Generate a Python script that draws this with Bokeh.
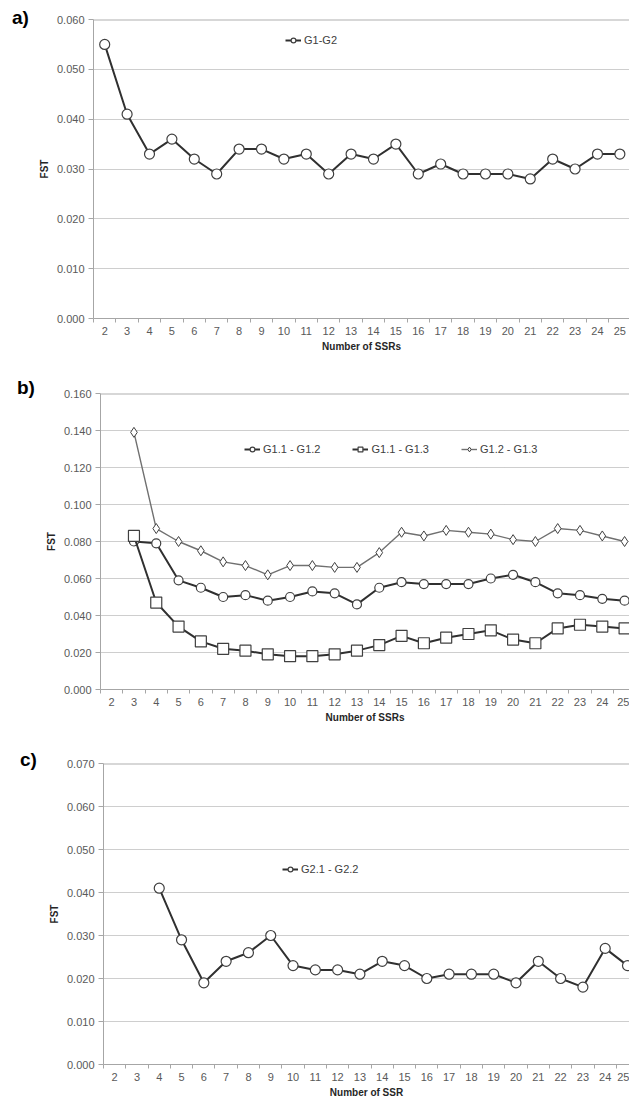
from bokeh.plotting import figure
from bokeh.models import (FixedTicker, NumeralTickFormatter, Range1d, Span,
                          Legend, LegendItem, Div)
from bokeh.layouts import column, row
from bokeh.embed import file_html
from bokeh.resources import INLINE

# ---------------- data ----------------
ssr_a = list(range(2, 26))
fst_g1_g2 = [0.055, 0.041, 0.033, 0.036, 0.032, 0.029, 0.034, 0.034, 0.032, 0.033,
             0.029, 0.033, 0.032, 0.035, 0.029, 0.031, 0.029, 0.029, 0.029, 0.028,
             0.032, 0.030, 0.033, 0.033]

ssr_b = list(range(3, 26))
fst_g11_g12 = [0.080, 0.079, 0.059, 0.055, 0.050, 0.051, 0.048, 0.050, 0.053, 0.052,
               0.046, 0.055, 0.058, 0.057, 0.057, 0.057, 0.060, 0.062, 0.058, 0.052,
               0.051, 0.049, 0.048]
fst_g11_g13 = [0.083, 0.047, 0.034, 0.026, 0.022, 0.021, 0.019, 0.018, 0.018, 0.019,
               0.021, 0.024, 0.029, 0.025, 0.028, 0.030, 0.032, 0.027, 0.025, 0.033,
               0.035, 0.034, 0.033]
fst_g12_g13 = [0.139, 0.087, 0.080, 0.075, 0.069, 0.067, 0.062, 0.067, 0.067, 0.066,
               0.066, 0.074, 0.085, 0.083, 0.086, 0.085, 0.084, 0.081, 0.080, 0.087,
               0.086, 0.083, 0.080]

ssr_c = list(range(4, 26))
fst_g21_g22 = [0.041, 0.029, 0.019, 0.024, 0.026, 0.030, 0.023, 0.022, 0.022, 0.021,
               0.024, 0.023, 0.020, 0.021, 0.021, 0.021, 0.019, 0.024, 0.020, 0.018,
               0.027, 0.023]

x_ticks = list(range(2, 26))
y_ticks_a = [0.0, 0.01, 0.02, 0.03, 0.04, 0.05, 0.06]
y_ticks_b = [0.0, 0.02, 0.04, 0.06, 0.08, 0.10, 0.12, 0.14, 0.16]
y_ticks_c = [0.0, 0.01, 0.02, 0.03, 0.04, 0.05, 0.06, 0.07]

FONT = "Liberation Sans"
AXIS_GRAY = "#a6a6a6"
TICK_TXT = "#595959"
LINE_DARK = "#303030"
MARK_EDGE = "#404040"


def make_fig(left, tag_w, frame_w, frame_h, top, bottom, x_end, y_ticks, xlabel):
    p = figure(frame_width=frame_w, frame_height=frame_h,
               min_border_left=left - tag_w, min_border_right=0,
               min_border_top=top, min_border_bottom=bottom,
               x_range=Range1d(1.5, x_end), y_range=Range1d(0, y_ticks[-1]),
               output_backend="svg", toolbar_location=None)
    p.outline_line_color = None
    p.background_fill_color = "white"
    p.border_fill_color = "white"
    p.xgrid.grid_line_color = None
    p.ygrid.grid_line_color = "#9c9c9c"
    p.ygrid.grid_line_dash = "1 1"
    p.ygrid.grid_line_width = 1

    xa = p.xaxis[0]
    xa.ticker = FixedTicker(ticks=x_ticks, minor_ticks=[t - 0.5 for t in x_ticks] + [25.5])
    xa.axis_line_color = AXIS_GRAY
    xa.major_tick_line_color = None
    xa.major_tick_out = 0
    xa.major_tick_in = 0
    xa.minor_tick_line_color = AXIS_GRAY
    xa.minor_tick_out = 4
    xa.minor_tick_in = 0
    xa.major_label_text_font = FONT
    xa.major_label_text_font_size = "11px"
    xa.major_label_text_color = TICK_TXT
    xa.major_label_standoff = 4
    xa.axis_label = xlabel
    xa.axis_label_text_font = FONT
    xa.axis_label_text_font_size = "10px"
    xa.axis_label_text_font_style = "bold"
    xa.axis_label_text_color = "#262626"
    xa.axis_label_standoff = 3

    ya = p.yaxis[0]
    ya.ticker = FixedTicker(ticks=y_ticks)
    ya.formatter = NumeralTickFormatter(format="0.000")
    ya.axis_line_color = AXIS_GRAY
    ya.major_tick_line_color = AXIS_GRAY
    ya.major_tick_out = 5
    ya.major_tick_in = 0
    ya.minor_tick_line_color = None
    ya.major_label_text_font = FONT
    ya.major_label_text_font_size = "11px"
    ya.major_label_text_color = TICK_TXT
    ya.major_label_standoff = 4
    ya.axis_label = "FST"
    ya.axis_label_text_font = FONT
    ya.axis_label_text_font_size = "10px"
    ya.axis_label_text_font_style = "bold"
    ya.axis_label_text_color = "#262626"
    ya.axis_label_standoff = 4

    p.add_layout(Span(location=y_ticks[-1], dimension="width",
                      line_color="#b0b0b0", line_width=2))
    return p


def tag_div(tag, width, pad_left, pad_top):
    html = ('<div style="font-family:\'Liberation Sans\',Arial,sans-serif;'
            'font-size:19px;font-weight:bold;line-height:19px;color:#000;'
            f'padding-left:{pad_left}px;padding-top:{pad_top}px;">{tag}</div>')
    return Div(text=html, width=width, height=40, margin=0)


def series(p, xs, ys, marker, size, lcolor, lwidth, mwidth=1.2):
    ln = p.line(xs, ys, line_color=lcolor, line_width=lwidth)
    sc = p.scatter(xs, ys, marker=marker, size=size, fill_color="white",
                   line_color=MARK_EDGE, line_width=mwidth)
    return [ln, sc]


def add_legend(p, items, loc, spacing=0):
    lg = Legend(items=[LegendItem(label=l, renderers=r) for l, r in items],
                location=loc, orientation="horizontal",
                glyph_width=16, glyph_height=12, label_standoff=3,
                label_text_font=FONT, label_text_font_size="11px",
                label_text_color="#404040", label_height=12,
                padding=0, margin=0, spacing=spacing,
                border_line_color=None, background_fill_alpha=0)
    p.add_layout(lg)


# ---------------- panel a ----------------
pa = make_fig(93, 30, 536, 299, 19, 52, 25.43, y_ticks_a, "Number of SSRs")
ra = series(pa, ssr_a, fst_g1_g2, "circle", 10, LINE_DARK, 2)
add_legend(pa, [("G1-G2", ra)], (192, 272))

# ---------------- panel b ----------------
pb = make_fig(100, 40, 529, 296, 23, 51, 25.22, y_ticks_b, "Number of SSRs")
rb3 = series(pb, ssr_b, fst_g12_g13, "diamond", 10, "#707070", 1.4, 1.0)
rb1 = series(pb, ssr_b, fst_g11_g12, "circle", 9, LINE_DARK, 2)
rb2 = series(pb, ssr_b, fst_g11_g13, "square", 11, LINE_DARK, 2)
add_legend(pb, [("G1.1 - G1.2", rb1), ("G1.1 - G1.3", rb2), ("G1.2 - G1.3", rb3)],
           (144, 234), spacing=32)

# ---------------- panel c ----------------
pc = make_fig(103, 40, 526, 301, 23, 35, 25.09, y_ticks_c, "Number of SSR")
rc = series(pc, ssr_c, fst_g21_g22, "circle", 10, LINE_DARK, 2)
add_legend(pc, [("G2.1 - G2.2", rc)], (179, 189))

layout = column(
    row(tag_div("a)", 30, 12, 8), pa, spacing=0),
    row(tag_div("b)", 40, 17, 8), pb, spacing=0),
    row(tag_div("c)", 40, 20, 10), pc, spacing=0),
    spacing=0,
)
open("out.html", "w").write(file_html(layout, INLINE))
